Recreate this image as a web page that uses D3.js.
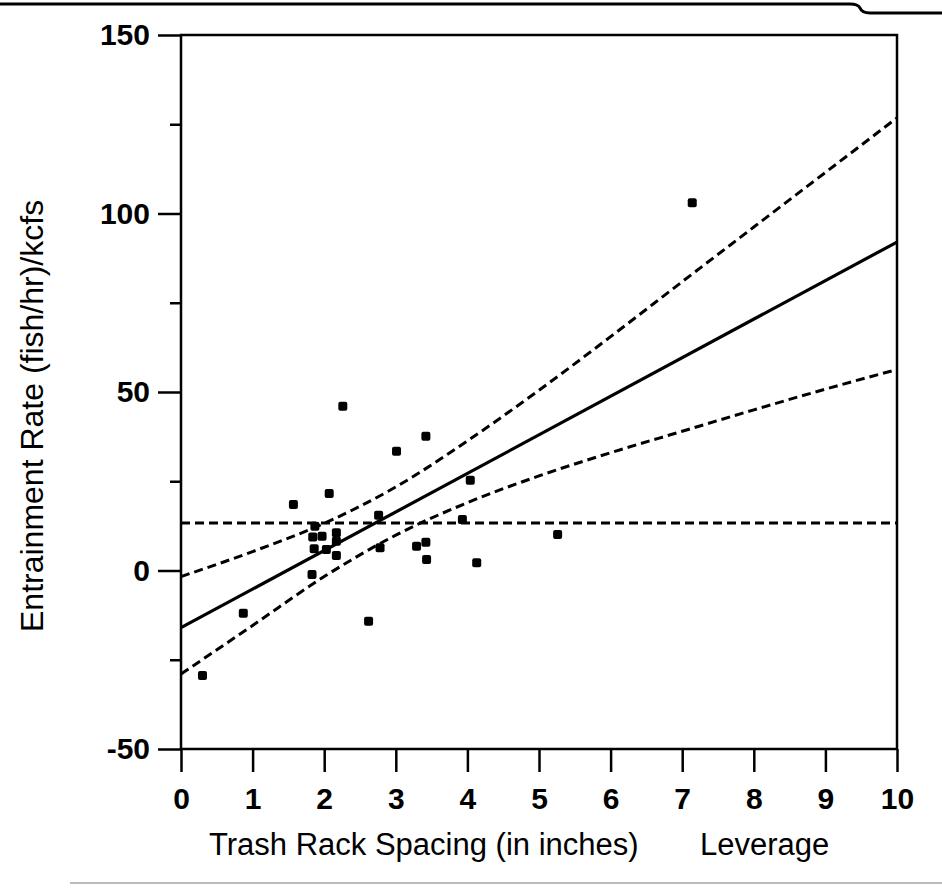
<!DOCTYPE html>
<html>
<head>
<meta charset="utf-8">
<script src="https://cdn.jsdelivr.net/npm/d3@7"></script>
<style>
  html, body { margin: 0; padding: 0; background: #fff; }
  svg { display: block; }
  text { font-family: "Liberation Sans", Arial, Helvetica, sans-serif; fill: #000; }
</style>
</head>
<body>
<svg id="chart" width="942" height="888"></svg>
<script>
// ---- data ----
const pointX = [0.30, 0.87, 1.57, 1.83, 1.84, 1.86, 1.87, 1.97, 2.03, 2.07, 2.17, 2.17, 2.17, 2.26, 2.62, 2.76, 2.78, 3.01, 3.29, 3.42, 3.43, 3.42, 3.93, 4.04, 4.13, 5.26, 7.14];
const pointY = [-29.4, -12.0, 18.5, -1.1, 9.4, 6.1, 12.4, 9.6, 5.9, 21.6, 10.6, 8.2, 4.2, 46.0, -14.2, 15.5, 6.4, 33.4, 6.8, 7.9, 3.1, 37.6, 14.3, 25.3, 2.2, 10.1, 103.0];

const fitX = [0, 10];
const fitY = [-16.0, 92.0];

const bandX = [0, 1, 2, 3, 4, 5, 6, 7, 8, 9, 10];
const bandUpper = [-1.7, 5.3, 13.2, 23.4, 36.3, 50.5, 65.5, 80.9, 96.2, 111.5, 126.8];
const bandLower = [-29.0, -15.4, -1.7, 9.9, 19.0, 26.5, 33.0, 39.0, 45.0, 50.8, 56.3];

const meanLineX = [0, 10];
const meanLineY = [13.3, 13.3];

const xTicks = [0, 1, 2, 3, 4, 5, 6, 7, 8, 9, 10];
const yTicksMajor = [-50, 0, 50, 100, 150];
const yTicksMinor = [-25, 25, 75, 125];

const xTitle = "Trash Rack Spacing (in inches)";
const xTitle2 = "Leverage";
const yTitle = "Entrainment Rate (fish/hr)/kcfs";

// ---- drawing ----
const svg = d3.select("#chart");
const x = d3.scaleLinear().domain([0, 10]).range([181, 897]);
const y = d3.scaleLinear().domain([-50, 150]).range([749, 35]);
const fmt = d => String(d); // plain hyphen-minus as in the original

// scan artefacts (page rules)
svg.append("path")
  .attr("d", "M0,4 L850,4 Q858,4 860,8 Q862,13 870,13 L942,13")
  .attr("fill", "none").attr("stroke", "#000").attr("stroke-width", 3);
svg.append("line").attr("x1", 70).attr("x2", 942).attr("y1", 883).attr("y2", 883)
  .attr("stroke", "#bbb").attr("stroke-width", 2);

// axes
const xAxis = d3.axisBottom(x).tickValues(xTicks).tickSize(23).tickSizeOuter(0).tickPadding(16)
  .tickFormat(fmt);
const gx = svg.append("g").attr("transform", `translate(0,${y(-50)})`).call(xAxis);
gx.select(".domain").remove();
gx.selectAll(".tick line").attr("stroke", "#000").attr("stroke-width", 2.5);
gx.selectAll(".tick text").attr("font-size", 30).attr("font-weight", "bold")
  .attr("font-family", "Liberation Sans, Arial, sans-serif");

const yAxis = d3.axisLeft(y).tickValues(yTicksMajor).tickSize(23).tickSizeOuter(0).tickPadding(8)
  .tickFormat(fmt);
const gy = svg.append("g").attr("transform", `translate(${x(0)},0)`).call(yAxis);
gy.select(".domain").remove();
gy.selectAll(".tick line").attr("stroke", "#000").attr("stroke-width", 2.5);
gy.selectAll(".tick text").attr("font-size", 30).attr("font-weight", "bold")
  .attr("font-family", "Liberation Sans, Arial, sans-serif");

const yMinor = d3.axisLeft(y).tickValues(yTicksMinor).tickSize(11).tickSizeOuter(0).tickFormat("");
const gym = svg.append("g").attr("transform", `translate(${x(0)},0)`).call(yMinor);
gym.select(".domain").remove();
gym.selectAll(".tick line").attr("stroke", "#000").attr("stroke-width", 2.5);

// frame
svg.append("rect")
  .attr("x", x(0)).attr("y", y(150))
  .attr("width", x(10) - x(0)).attr("height", y(-50) - y(150))
  .attr("fill", "none").attr("stroke", "#000").attr("stroke-width", 2.5);

// mean line
const line = d3.line().x(d => x(d[0])).y(d => y(d[1]));
svg.append("path")
  .attr("d", line(meanLineX.map((v, i) => [v, meanLineY[i]])))
  .attr("fill", "none").attr("stroke", "#000").attr("stroke-width", 3)
  .attr("stroke-dasharray", "9,5");

// confidence curves
const curve = d3.line().x(d => x(d[0])).y(d => y(d[1])).curve(d3.curveMonotoneX);
[bandUpper, bandLower].forEach(arr => {
  svg.append("path")
    .attr("d", curve(bandX.map((v, i) => [v, arr[i]])))
    .attr("fill", "none").attr("stroke", "#000").attr("stroke-width", 3)
    .attr("stroke-dasharray", "9,5");
});

// fit line
svg.append("path")
  .attr("d", line(fitX.map((v, i) => [v, fitY[i]])))
  .attr("fill", "none").attr("stroke", "#000").attr("stroke-width", 3.2);

// points
const ms = 9;
svg.append("g").selectAll("rect").data(pointX.map((v, i) => [v, pointY[i]])).join("rect")
  .attr("x", d => x(d[0]) - ms / 2).attr("y", d => y(d[1]) - ms / 2)
  .attr("width", ms).attr("height", ms).attr("rx", 2).attr("fill", "#000");

// titles
svg.append("text").attr("x", 209).attr("y", 855).attr("font-size", 31).text(xTitle);
svg.append("text").attr("x", 700).attr("y", 855).attr("font-size", 31).text(xTitle2);
svg.append("text")
  .attr("transform", "translate(43,632) rotate(-90)")
  .attr("text-anchor", "start").attr("font-size", 32).text(yTitle);
</script>
</body>
</html>
